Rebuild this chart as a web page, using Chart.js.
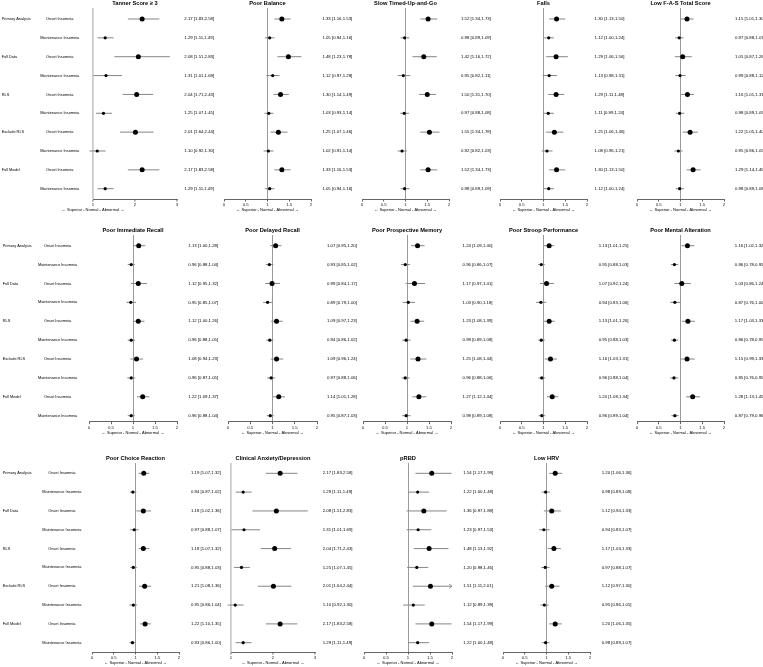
<!DOCTYPE html>
<html><head><meta charset="utf-8">
<script src="https://cdn.jsdelivr.net/npm/chart.js@4/dist/chart.umd.min.js"></script>
<style>
html,body{margin:0;padding:0;background:#fff;width:763px;height:667px;overflow:hidden;position:relative}
canvas{position:absolute}
</style></head><body>
<script>
// ---------- categories / labels ----------
const groups = ["Primary Analysis","Full Data","RLS","Exclude RLS","Full Model"];
const insomniaTypes = ["Onset Insomnia","Maintenance Insomnia"];
const xAxisLabel = "\u2190 Superior - Normal - Abnormal \u2192";
const ticksUnit = [0,0.5,1,1.5,2];
const ticksUnitLabels = ["0","0.5","1","1.5","2"];
const ticksWide = [1,2,3];
const ticksWideLabels = ["1","2","3"];

// ---------- series values (est, lower, upper) ----------
const tannerEst = [2.17,1.29,2.08,1.31,2.04,1.25,2.01,1.10,2.17,1.29];
const tannerLo  = [1.83,1.11,1.51,1.01,1.71,1.07,1.64,0.92,1.83,1.11];
const tannerHi  = [2.58,1.49,2.83,1.69,2.43,1.45,2.44,1.30,2.58,1.49];

const balanceEst = [1.33,1.05,1.48,1.12,1.30,1.03,1.25,1.02,1.33,1.05];
const balanceLo  = [1.16,0.94,1.23,0.97,1.14,0.93,1.07,0.91,1.16,0.94];
const balanceHi  = [1.53,1.16,1.78,1.28,1.49,1.14,1.46,1.14,1.53,1.16];

const tugEst = [1.52,0.98,1.42,0.95,1.50,0.97,1.55,0.92,1.52,0.98];
const tugLo  = [1.34,0.89,1.16,0.82,1.31,0.88,1.34,0.82,1.34,0.89];
const tugHi  = [1.73,1.09,1.72,1.11,1.70,1.08,1.78,1.03,1.73,1.09];

const fallsEst = [1.30,1.12,1.29,1.13,1.29,1.11,1.25,1.08,1.30,1.12];
const fallsLo  = [1.13,1.00,1.06,0.98,1.11,0.99,1.06,0.96,1.13,1.00];
const fallsHi  = [1.50,1.24,1.56,1.31,1.48,1.24,1.46,1.21,1.50,1.24];

const fasEst = [1.15,0.97,1.05,0.99,1.16,0.98,1.22,0.95,1.29,0.98];
const fasLo  = [1.01,0.88,0.87,0.88,1.01,0.89,1.05,0.86,1.14,0.89];
const fasHi  = [1.30,1.07,1.26,1.12,1.31,1.09,1.40,1.05,1.46,1.08];

const immEst = [1.13,0.96,1.12,0.95,1.12,0.96,1.08,0.96,1.22,0.96];
const immLo  = [1.00,0.88,0.95,0.85,1.00,0.88,0.94,0.87,1.09,0.88];
const immHi  = [1.28,1.04,1.32,1.07,1.26,1.05,1.23,1.05,1.37,1.04];

const delEst = [1.07,0.93,0.99,0.89,1.09,0.94,1.09,0.97,1.14,0.95];
const delLo  = [0.95,0.85,0.84,0.79,0.97,0.86,0.96,0.88,1.01,0.87];
const delHi  = [1.20,1.02,1.17,1.00,1.23,1.02,1.24,1.06,1.28,1.03];

const proEst = [1.24,0.96,1.17,1.03,1.23,0.98,1.25,0.96,1.27,0.98];
const proLo  = [1.09,0.86,0.97,0.90,1.08,0.89,1.08,0.88,1.12,0.89];
const proHi  = [1.40,1.07,1.41,1.18,1.39,1.08,1.44,1.06,1.44,1.08];

const stroopEst = [1.13,0.95,1.07,0.94,1.13,0.95,1.16,0.96,1.20,0.96];
const stroopLo  = [1.01,0.88,0.92,0.83,1.01,0.88,1.03,0.88,1.08,0.89];
const stroopHi  = [1.25,1.03,1.24,1.06,1.26,1.03,1.31,1.04,1.34,1.04];

const mentalEst = [1.16,0.86,1.03,0.87,1.17,0.86,1.15,0.85,1.28,0.87];
const mentalLo  = [1.02,0.78,0.86,0.76,1.03,0.78,0.99,0.76,1.13,0.79];
const mentalHi  = [1.32,0.95,1.24,1.00,1.33,0.95,1.33,0.95,1.45,0.96];

const choiceEst = [1.19,0.94,1.18,0.97,1.18,0.95,1.21,0.95,1.22,0.93];
const choiceLo  = [1.07,0.87,1.02,0.88,1.07,0.88,1.08,0.86,1.10,0.86];
const choiceHi  = [1.32,1.02,1.36,1.07,1.32,1.03,1.36,1.04,1.35,1.00];

const anxEst = [2.17,1.29,2.08,1.31,2.04,1.25,2.01,1.10,2.17,1.29];
const anxLo  = [1.83,1.11,1.51,1.01,1.71,1.07,1.64,0.92,1.83,1.11];
const anxHi  = [2.58,1.49,2.83,1.69,2.43,1.45,2.44,1.30,2.58,1.49];

const rbdEst = [1.54,1.22,1.36,1.23,1.48,1.20,1.51,1.12,1.54,1.22];
const rbdLo  = [1.17,1.00,0.97,0.97,1.13,0.98,1.11,0.89,1.17,1.00];
const rbdHi  = [1.99,1.48,1.88,1.53,1.92,1.46,2.01,1.38,1.99,1.48];

const hrvEst = [1.20,0.98,1.12,0.94,1.17,0.97,1.12,0.95,1.20,0.98];
const hrvLo  = [1.06,0.89,0.94,0.83,1.03,0.88,0.97,0.86,1.06,0.89];
const hrvHi  = [1.36,1.08,1.33,1.07,1.33,1.07,1.30,1.05,1.35,1.07];

// ---------- layout (positions only) ----------
const FONT = '"Liberation Sans", Arial, Helvetica, sans-serif';
const rowsLayout = [
  {top:8,   axisY:199,   first:19,    last:188.7, groupX:1.7, typeX:59.7},
  {top:235, axisY:421.7, first:245.7, last:415.7, groupX:2.7, typeX:57.5},
  {top:463, axisY:652,   first:473.3, last:642.7, groupX:2.7, typeX:61.8}
];

const panels = [
  {title:"Tanner Score \u2265 3", est:tannerEst, lo:tannerLo, hi:tannerHi, row:0, x0:93,  x1:177, wide:true,  gap:7.3, labelAt:1, labels:true},
  {title:"Poor Balance",          est:balanceEst, lo:balanceLo, hi:balanceHi, row:0, x0:224, x1:311, gap:11.4, labelAt:1},
  {title:"Slow Timed-Up-and-Go",  est:tugEst, lo:tugLo, hi:tugHi, row:0, x0:362, x1:449, gap:12, labelAt:1},
  {title:"Falls",                 est:fallsEst, lo:fallsLo, hi:fallsHi, row:0, x0:500, x1:587, gap:7.6, labelAt:1},
  {title:"Low F-A-S Total Score", est:fasEst, lo:fasLo, hi:fasHi, row:0, x0:637, x1:724, gap:11, labelAt:1},

  {title:"Poor Immediate Recall", est:immEst, lo:immLo, hi:immHi, row:1, x0:89, x1:177, gap:11.3, labelAt:1, labels:true},
  {title:"Poor Delayed Recall",   est:delEst, lo:delLo, hi:delHi, row:1, x0:228, x1:317, gap:10, labelAt:1},
  {title:"Poor Prospective Memory", est:proEst, lo:proLo, hi:proHi, row:1, x0:363, x1:451, gap:11.6, labelAt:1},
  {title:"Poor Stroop Performance", est:stroopEst, lo:stroopLo, hi:stroopHi, row:1, x0:500, x1:587, gap:11.7, labelAt:1},
  {title:"Poor Mental Alteration",  est:mentalEst, lo:mentalLo, hi:mentalHi, row:1, x0:637, x1:724, gap:10.8, labelAt:1},

  {title:"Poor Choice Reaction",  est:choiceEst, lo:choiceLo, hi:choiceHi, row:2, x0:92, x1:179, gap:12, labelAt:1, labels:true},
  {title:"Clinical Anxiety/Depression", est:anxEst, lo:anxLo, hi:anxHi, row:2, x0:231, x1:315, wide:true, gap:7.7, labelAt:2},
  {title:"pRBD",                  est:rbdEst, lo:rbdLo, hi:rbdHi, row:2, x0:364, x1:452, gap:11.3, labelAt:1},
  {title:"Low HRV",               est:hrvEst, lo:hrvLo, hi:hrvHi, row:2, x0:503, x1:590, gap:11.7, labelAt:1}
];

const TITLE_H = 9, AXIS_H = 12;

function makeAnnotPlugin(p, L) {
  return {
    id: 'annot',
    afterDatasetsDraw(chart) {
      const ctx = chart.ctx, xs = chart.scales.x, ys = chart.scales.y, area = chart.chartArea;
      ctx.save();
      // arrows for intervals running past the axis maximum
      const xmax = xs.max;
      ctx.strokeStyle = '#808080'; ctx.lineWidth = 0.8;
      p.hi.forEach((h, i) => {
        if (h > xmax) {
          const x = xs.getPixelForValue(xmax), y = ys.getPixelForValue(i);
          ctx.beginPath(); ctx.moveTo(x - 3, y - 2.2); ctx.lineTo(x, y); ctx.lineTo(x - 3, y + 2.2); ctx.stroke();
        }
      });
      // value / interval text
      ctx.fillStyle = '#000';
      ctx.textBaseline = 'middle';
      ctx.textAlign = 'left';
      ctx.font = '4.3px ' + FONT;
      p.est.forEach((e, i) => {
        const t = e.toFixed(2) + ' [' + p.lo[i].toFixed(2) + ',' + p.hi[i].toFixed(2) + ']';
        ctx.fillText(t, area.right + p.gap, ys.getPixelForValue(i));
      });
      // x axis label
      ctx.textAlign = 'center';
      ctx.font = '4px ' + FONT;
      ctx.fillText(xAxisLabel, xs.getPixelForValue(p.labelAt), area.bottom + 11);
      // row labels
      if (p.labels) {
        ctx.font = '3.9px ' + FONT;
        p.est.forEach((e, i) => {
          const y = ys.getPixelForValue(i);
          if (i % 2 === 0) {
            ctx.textAlign = 'left';
            ctx.fillText(groups[i / 2], L.groupX, y);
          }
          ctx.textAlign = 'center';
          ctx.fillText(insomniaTypes[i % 2], L.typeX, y);
        });
      }
      ctx.restore();
    }
  };
}

panels.forEach(p => {
  const L = rowsLayout[p.row];
  const padL = p.labels ? p.x0 : 14;
  const W = Math.ceil(padL + (p.x1 - p.x0) + 52);
  const padR = W - padL - (p.x1 - p.x0);
  const H = Math.ceil(TITLE_H + (L.axisY - L.top) + 17);
  const padB = H - TITLE_H - (L.axisY - L.top) - AXIS_H;
  const cvs = document.createElement('canvas');
  cvs.width = W; cvs.height = H;
  cvs.style.width = W + 'px'; cvs.style.height = H + 'px';
  cvs.style.left = (p.x0 - padL) + 'px';
  cvs.style.top = (L.top - TITLE_H) + 'px';
  document.body.appendChild(cvs);

  const s = (L.last - L.first) / 9;
  const ymin = -(L.first - L.top) / s;
  const ymax = 9 + (L.axisY - L.last) / s;
  const tickVals = p.wide ? ticksWide : ticksUnit;
  const tickLabs = p.wide ? ticksWideLabels : ticksUnitLabels;
  const refColor = p.wide ? '#cccccc' : '#8f8f8f';
  const refWidth = p.wide ? 1.8 : 0.9;

  const ciData = [];
  p.est.forEach((e, i) => {
    ciData.push({x: p.lo[i], y: i}, {x: p.hi[i], y: i}, {x: null, y: null});
  });

  new Chart(cvs, {
    type: 'scatter',
    data: {
      datasets: [
        {
          type: 'scatter',
          data: p.est.map((e, i) => ({x: e, y: i})),
          pointRadius: p.est.map((e, i) => i % 2 === 0 ? 2.5 : 1.6),
          pointBackgroundColor: '#000',
          pointBorderWidth: 0,
          clip: false,
          order: 0
        },
        {
          type: 'line',
          data: ciData,
          showLine: true,
          spanGaps: false,
          borderColor: '#858585',
          borderWidth: 1,
          pointRadius: 0,
          clip: {left: false, top: false, right: 0, bottom: false},
          order: 1
        }
      ]
    },
    options: {
      responsive: false,
      animation: false,
      events: [],
      layout: {padding: {left: padL, right: padR, top: 0, bottom: padB}},
      plugins: {
        legend: {display: false},
        tooltip: {enabled: false},
        title: {
          display: true, text: p.title, color: '#000', fullSize: false,
          font: {family: FONT, size: 5.7, weight: 'bold', lineHeight: 1},
          padding: {top: 1.7, bottom: 1.6}
        }
      },
      scales: {
        x: {
          type: 'linear',
          min: tickVals[0], max: tickVals[tickVals.length - 1],
          afterBuildTicks: sc => { sc.ticks = tickVals.map(v => ({value: v})); },
          afterFit: sc => { sc.height = AXIS_H; },
          ticks: {
            callback: (v, i) => tickLabs[i],
            font: {family: FONT, size: 4.3},
            color: '#111', padding: 1, maxRotation: 0, autoSkip: false
          },
          grid: {
            color: c => (c.tick && c.tick.value === 1) ? refColor : 'rgba(0,0,0,0)',
            lineWidth: refWidth,
            tickColor: '#222', tickLength: 2.5, tickWidth: 0.7,
            drawOnChartArea: true, drawTicks: true
          },
          border: {display: true, color: '#222', width: 0.7}
        },
        y: {
          type: 'linear', display: false, reverse: true,
          min: ymin, max: ymax,
          grid: {display: false}
        }
      }
    },
    plugins: [makeAnnotPlugin(p, L)]
  });
});
</script>
</body></html>
